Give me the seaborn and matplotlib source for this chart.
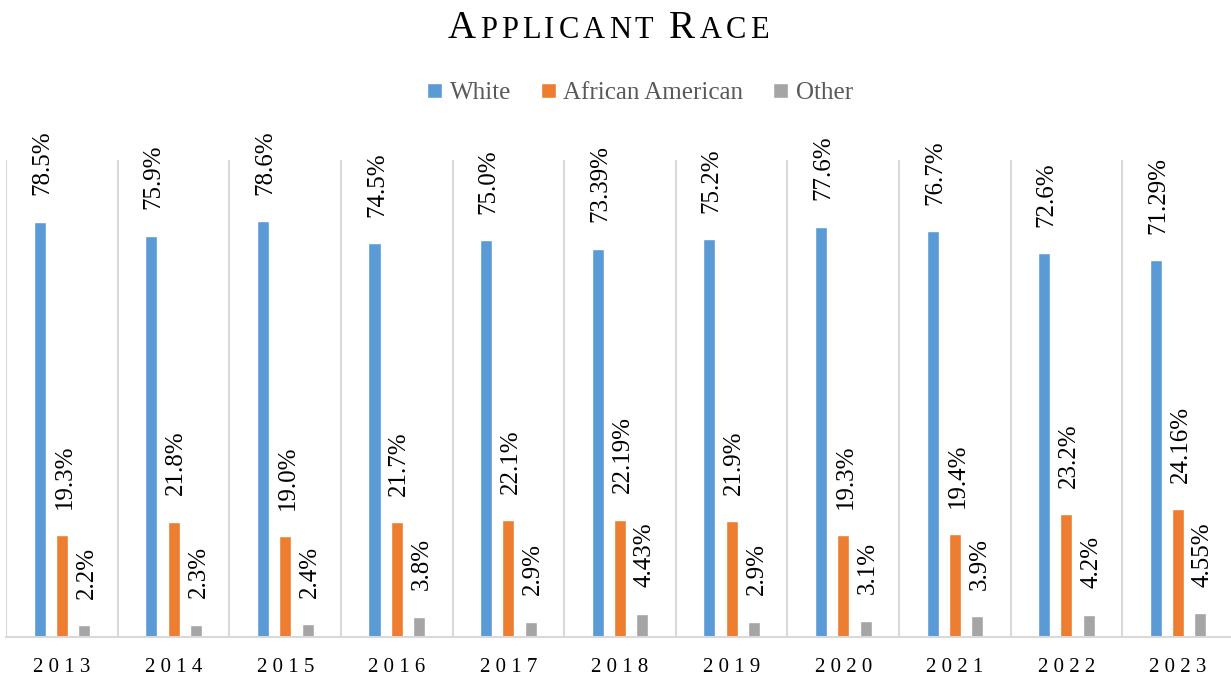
#!/usr/bin/env python3

import matplotlib
matplotlib.use('Agg')
import matplotlib.pyplot as plt
import numpy as np
import pandas as pd
import seaborn as sns


title = 'Applicant Race'
years = ['2013', '2014', '2015', '2016', '2017', '2018', '2019', '2020', '2021', '2022', '2023']
series_names = ['White', 'African American', 'Other']

white = [78.5, 75.9, 78.6, 74.5, 75.0, 73.39, 75.2, 77.6, 76.7, 72.6, 71.29]
african_american = [19.3, 21.8, 19.0, 21.7, 22.1, 22.19, 21.9, 19.3, 19.4, 23.2, 24.16]
other = [2.2, 2.3, 2.4, 3.8, 2.9, 4.43, 2.9, 3.1, 3.9, 4.2, 4.55]

white_labels = ['78.5%', '75.9%', '78.6%', '74.5%', '75.0%', '73.39%', '75.2%', '77.6%', '76.7%', '72.6%', '71.29%']
african_american_labels = ['19.3%', '21.8%', '19.0%', '21.7%', '22.1%', '22.19%', '21.9%', '19.3%', '19.4%', '23.2%', '24.16%']
other_labels = ['2.2%', '2.3%', '2.4%', '3.8%', '2.9%', '4.43%', '2.9%', '3.1%', '3.9%', '4.2%', '4.55%']

colors = ['#5b9bd5', '#ed7d31', '#a5a5a5']


def small_caps_title(fig, text, x_center, y, big=28, small=22, tracking=4):
    # matplotlib has no real small caps, so place each letter by hand
    renderer = fig.canvas.get_renderer()
    pieces = []
    for ch in text:
        size = big if ch.isupper() else small
        t = fig.text(0, y, ch.upper(), fontsize=size, family='Liberation Serif',
                     color='black', va='baseline', ha='left',
                     transform=None)
        pieces.append(t)
    widths = []
    for t in pieces:
        if t.get_text() == ' ':
            widths.append(small * 0.25 * fig.dpi / 72)
        else:
            widths.append(t.get_window_extent(renderer).width)
    total = sum(widths) + tracking * (len(pieces) - 1)
    x = x_center - total / 2
    for t, w in zip(pieces, widths):
        t.set_position((x, y))
        x += w + tracking


def main():
    sns.set_theme(style='white')
    plt.rcParams['font.family'] = ['Liberation Serif', 'DejaVu Serif']

    df = pd.DataFrame({
        'year': years * 3,
        'group': [series_names[0]] * len(years) + [series_names[1]] * len(years) + [series_names[2]] * len(years),
        'value': white + african_american + other,
    })

    fig = plt.figure(figsize=(12.31, 6.79), dpi=100)
    ax = fig.add_axes([0.00504, 0.0619, 0.9973, 0.7025])

    sns.barplot(data=df, x='year', y='value', hue='group', hue_order=series_names,
                palette=colors, width=0.6, gap=0.46, saturation=1,
                errorbar=None, ax=ax)

    # labels start just above each bar, reading upwards
    for container, labels in zip(ax.containers, [white_labels, african_american_labels, other_labels]):
        for bar, label in zip(container, labels):
            ax.annotate(label, (bar.get_x() + bar.get_width() / 2, bar.get_height()),
                        xytext=(0, 19), textcoords='offset points',
                        rotation=90, rotation_mode='anchor',
                        ha='left', va='center_baseline',
                        fontsize=18, color='black', annotation_clip=False)

    ax.set_xlim(-0.5, 10.5)
    ax.set_ylim(0, 90.2)
    ax.set_xticks(range(len(years)))
    ax.set_xticklabels([' '.join(y) for y in years], fontsize=15, color='black')
    ax.set_xticks(np.arange(-0.5, len(years), 1), minor=True)
    ax.tick_params(axis='x', which='both', length=0, pad=15)
    ax.set_yticks([])
    ax.set_xlabel('')
    ax.set_ylabel('')
    ax.grid(which='minor', axis='x', color='#d9d9d9', linewidth=1.5)
    ax.grid(which='major', visible=False)
    ax.set_axisbelow(True)
    for side in ['top', 'left', 'right']:
        ax.spines[side].set_visible(False)
    ax.spines['bottom'].set_color('#d9d9d9')
    ax.spines['bottom'].set_linewidth(1.5)

    handles, labels = ax.get_legend_handles_labels()
    ax.get_legend().remove()
    fig.legend(handles, labels, loc='center', bbox_to_anchor=(0.52, 0.863), ncol=3,
               frameon=False, fontsize=18, handlelength=0.6, handleheight=0.55,
               handletextpad=0.3, columnspacing=1.2, labelcolor='#595959')

    fig.canvas.draw()
    small_caps_title(fig, title, 608, 679 - 38)

    fig.savefig('out.png', dpi=100)


if __name__ == "__main__":
    main()
